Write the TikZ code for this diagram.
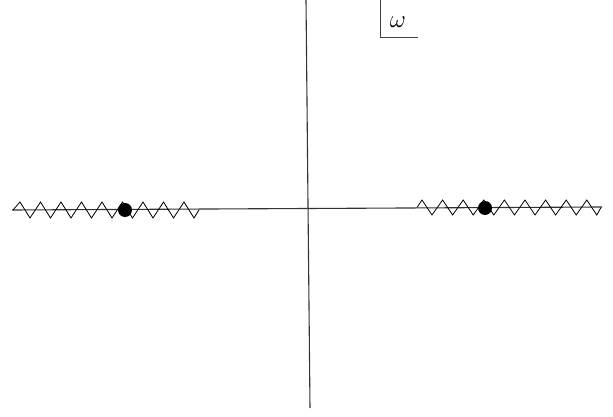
\documentclass[tikz,border=0pt]{standalone}
\begin{document}
\begin{tikzpicture}[x=1pt,y=-1pt,
  axis/.style={draw=black!80,line width=1.1pt},
  zig/.style={draw=black,line width=0.8pt,line join=miter},
  pole/.style={circle,fill=black,inner sep=0pt,minimum size=14pt},
  boxline/.style={draw=black!75,line width=1pt}]
\useasboundingbox (0,0) rectangle (613,417);
% axes
\coordinate (xl) at (12,210);
\coordinate (xr) at (602,207);
\coordinate (yt) at (306,0);
\coordinate (yb) at (310,408);
\draw[axis] (xl) -- (xr);
\draw[axis] (yt) -- (yb);
% branch cuts
\draw[zig] (13,210) \foreach \i in {0,...,8} { -- ({20+20.5*\i},202) -- ({30+20.5*\i},218) } -- (199,210);
\draw[zig] (417,207.5) \foreach \i in {0,...,8} { -- ({422+20.6*\i},200) -- ({432+20.6*\i},215) } -- (601,207.5);
% poles
\node[pole] (p1) at (125,210) {};
\node[pole] (p2) at (485,208) {};
% omega label
\coordinate (ct) at (380.5,0);
\coordinate (cc) at (380.5,38);
\coordinate (cr) at (418,38);
\draw[boxline] (ct) -- (cc) -- (cr);
\node[font=\fontsize{24}{28}\selectfont] (w) at (398,22) {$\omega$};
\end{tikzpicture}
\end{document}
